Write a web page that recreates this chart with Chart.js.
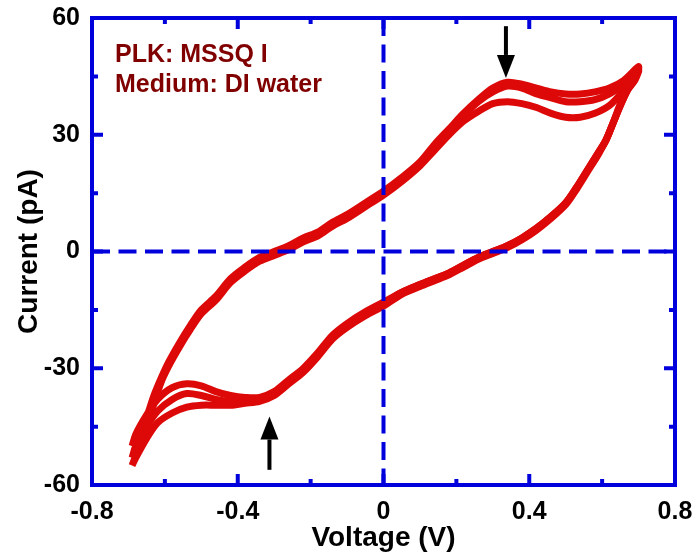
<!DOCTYPE html>
<html>
<head>
<meta charset="utf-8">
<script src="https://cdn.jsdelivr.net/npm/chart.js@4"></script>
<style>
  body { margin: 0; background: #fff; }
</style>
</head>
<body>
<canvas id="cv" width="694" height="559"></canvas>
<script>
// ---------------------------------------------------------------------------
// Data: three cyclic sweeps, voltage (V) vs current (pA)
// ---------------------------------------------------------------------------

const sweepUp = [-0.69, -0.67, -0.65, -0.63, -0.61, -0.59, -0.56, -0.53, -0.50, -0.46,
                 -0.42, -0.38, -0.34, -0.30, -0.26, -0.22, -0.18, -0.14, -0.10, -0.05,
                 0, 0.05, 0.10, 0.14, 0.18, 0.22, 0.26, 0.30, 0.34, 0.38,
                 0.42, 0.46, 0.50, 0.54, 0.58, 0.62, 0.66, 0.70];
const sweepDown = [0.69, 0.67, 0.65, 0.63, 0.61, 0.59, 0.56, 0.53, 0.50, 0.46,
                   0.42, 0.38, 0.34, 0.30, 0.26, 0.22, 0.18, 0.14, 0.10, 0.05,
                   0, -0.05, -0.10, -0.14, -0.18, -0.22, -0.26, -0.30, -0.34, -0.38,
                   -0.42, -0.46, -0.50, -0.54, -0.58, -0.62, -0.65, -0.68, -0.69];

const cycle1Up = [-50, -46.5, -42.5, -37, -32.5, -28.5, -23.5, -19, -15, -11.5,
                  -7, -4, -1.5, 0, 1.5, 3.5, 5, 7.5, 9.5, 12.5,
                  15.5, 19, 23, 27.5, 31.5, 35.5, 39, 42, 43.5, 43,
                  42, 41, 40.5, 40.5, 41, 42, 44, 47.5];
const cycle1Down = [45, 42, 38, 33, 28.5, 25.5, 21, 16.5, 12.5, 9,
                    6, 3.5, 1.5, 0, -1.5, -3.5, -5.5, -7, -8.5, -10.5,
                    -13, -15.5, -18.5, -21.5, -26, -30, -33, -36, -37.5, -37.5,
                    -37, -36, -34.5, -34, -35, -38, -42, -47, -50];

const cycle2Up = [-53, -48.5, -44, -38, -33, -29, -24, -19.5, -15.5, -12,
                  -7.5, -4.5, -2, -0.5, 1, 3, 4.5, 7, 9, 12,
                  15, 18.5, 22.5, 27, 31, 35, 38.5, 41, 42.5, 42,
                  40.5, 39.5, 38.5, 38.5, 39, 40.5, 43, 47];
const cycle2Down = [44.5, 41.5, 37.5, 33, 28.5, 25.5, 21, 16.5, 12.5, 9,
                    6, 3.5, 1.5, 0, -1.5, -3.5, -5.5, -7, -8.5, -10.5,
                    -13.5, -16, -19, -22, -26.5, -30.5, -33.5, -36.5, -38, -38.5,
                    -38.5, -38, -37, -36.5, -38, -41, -45, -50, -53];

const cycle3Up = [-55, -50, -45, -39, -33.5, -29.5, -24.5, -20, -16, -12.5,
                  -8, -5, -2.5, -1, 0.5, 2.5, 4, 6.5, 8.5, 11.5,
                  14.5, 18, 22, 26, 30, 33.5, 36, 38, 38.5, 38,
                  37, 35.5, 34.5, 34.5, 35.5, 37.5, 41.5, 46.5];
const cycle3Down = [44, 41.5, 37.5, 33, 28.5, 25, 20.5, 16, 12, 8.5,
                    5.5, 3, 1, -0.5, -2, -4, -6, -7.5, -9, -11,
                    -14, -16.5, -19.5, -22.5, -27, -31, -34, -37, -38.5, -39,
                    -39.5, -39.5, -39.5, -40, -41.5, -44, -48, -53, -55];

const xMajor = [-0.8, -0.4, 0, 0.4, 0.8];
const xMinor = [-0.6, -0.2, 0.2, 0.6];
const yMajor = [-60, -30, 0, 30, 60];
const yMinor = [-45, -15, 15, 45];

const labelLines = ['PLK: MSSQ I', 'Medium: DI water'];
// arrows: [voltage, tail current, tip current]
const peakArrows = [[0.336, 57.9, 44.6], [-0.313, -56.1, -42.4]];

const BLUE = '#0000dd';
const RED = '#dd0808';
const FONT = '"Liberation Sans", Arial, sans-serif';

function toPoints(up, upI, down, downI) {
    return up.map((v, i) => ({ x: v, y: upI[i] }))
        .concat(down.map((v, i) => ({ x: v, y: downI[i] })));
}

// ---------------------------------------------------------------------------
// Frame, inward ticks, dashed zero lines, arrows and label
// ---------------------------------------------------------------------------

const decorations = {
    id: 'decorations',
    afterDatasetsDraw(chart) {
        const { ctx, chartArea: a, scales: { x, y } } = chart;
        ctx.save();
        ctx.strokeStyle = BLUE;
        ctx.lineWidth = 4;

        // dashed zero lines
        ctx.setLineDash([18, 8.5]);
        ctx.beginPath();
        ctx.moveTo(a.left, y.getPixelForValue(0));
        ctx.lineTo(a.right, y.getPixelForValue(0));
        ctx.moveTo(x.getPixelForValue(0), a.top);
        ctx.lineTo(x.getPixelForValue(0), a.bottom);
        ctx.stroke();
        ctx.setLineDash([]);

        // frame
        ctx.strokeRect(a.left, a.top, a.right - a.left, a.bottom - a.top);

        // ticks pointing inward on all four sides
        ctx.beginPath();
        const tickX = (vals, len) => vals.forEach(v => {
            const px = x.getPixelForValue(v);
            ctx.moveTo(px, a.bottom); ctx.lineTo(px, a.bottom - len);
            ctx.moveTo(px, a.top); ctx.lineTo(px, a.top + len);
        });
        const tickY = (vals, len) => vals.forEach(v => {
            const py = y.getPixelForValue(v);
            ctx.moveTo(a.left, py); ctx.lineTo(a.left + len, py);
            ctx.moveTo(a.right, py); ctx.lineTo(a.right - len, py);
        });
        tickX(xMajor, 11); tickX(xMinor, 6);
        tickY(yMajor, 11); tickY(yMinor, 6);
        ctx.stroke();

        // arrows marking the peaks
        ctx.fillStyle = '#000';
        ctx.strokeStyle = '#000';
        ctx.lineWidth = 4;
        peakArrows.forEach(([v, from, to]) => {
            const px = x.getPixelForValue(v);
            const y0 = y.getPixelForValue(from);
            const y1 = y.getPixelForValue(to);
            const dir = Math.sign(y1 - y0);
            const headLen = 23, headHalf = 9;
            ctx.beginPath();
            ctx.moveTo(px, y0);
            ctx.lineTo(px, y1 - dir * headLen);
            ctx.stroke();
            ctx.beginPath();
            ctx.moveTo(px, y1);
            ctx.lineTo(px - headHalf, y1 - dir * headLen);
            ctx.lineTo(px + headHalf, y1 - dir * headLen);
            ctx.closePath();
            ctx.fill();
        });

        // sample label
        ctx.fillStyle = '#800000';
        ctx.font = 'bold 25px ' + FONT;
        ctx.textAlign = 'left';
        ctx.textBaseline = 'alphabetic';
        labelLines.forEach((t, i) => ctx.fillText(t, a.left + 23, a.top + 44 + i * 30));

        ctx.restore();
    }
};

// ---------------------------------------------------------------------------
// Chart
// ---------------------------------------------------------------------------

const lineStyle = {
    showLine: true, borderColor: RED, backgroundColor: RED,
    borderWidth: 7, pointRadius: 0, tension: 0.3, fill: false,
};

new Chart(document.getElementById('cv'), {
    type: 'scatter',
    data: {
        datasets: [
            { ...lineStyle, data: toPoints(sweepUp, cycle1Up, sweepDown, cycle1Down) },
            { ...lineStyle, data: toPoints(sweepUp, cycle2Up, sweepDown, cycle2Down) },
            { ...lineStyle, data: toPoints(sweepUp, cycle3Up, sweepDown, cycle3Down) },
        ]
    },
    options: {
        responsive: false,
        animation: false,
        layout: { padding: { left: 0, top: 18, right: 19, bottom: 0 } },
        plugins: { legend: { display: false }, tooltip: { enabled: false } },
        scales: {
            x: {
                type: 'linear', min: -0.8, max: 0.8,
                afterFit: s => { s.height = 74; s.paddingLeft = 0; s.paddingRight = 0; },
                afterBuildTicks: s => { s.ticks = xMajor.map(v => ({ value: v })); },
                grid: { display: false, drawTicks: false },
                border: { display: false },
                ticks: {
                    color: '#000', padding: 12,
                    font: { family: FONT, size: 25, weight: 'bold' },
                    callback: v => Math.abs(v) < 1e-9 ? '0' : v.toFixed(1),
                },
                title: {
                    display: true, text: 'Voltage (V)', color: '#000', padding: { top: 0, bottom: 4 },
                    font: { family: FONT, size: 28, weight: 'bold' },
                },
            },
            y: {
                type: 'linear', min: -60, max: 60,
                afterFit: s => { s.width = 92; s.paddingTop = 0; s.paddingBottom = 0; },
                afterBuildTicks: s => { s.ticks = yMajor.map(v => ({ value: v })); },
                grid: { display: false, drawTicks: false },
                border: { display: false },
                ticks: {
                    color: '#000', padding: 12,
                    font: { family: FONT, size: 25, weight: 'bold' },
                },
                title: {
                    display: true, text: 'Current (pA)', color: '#000', padding: { top: 12, bottom: 0 },
                    font: { family: FONT, size: 28, weight: 'bold' },
                },
            },
        },
    },
    plugins: [decorations],
});
</script>
</body>
</html>
